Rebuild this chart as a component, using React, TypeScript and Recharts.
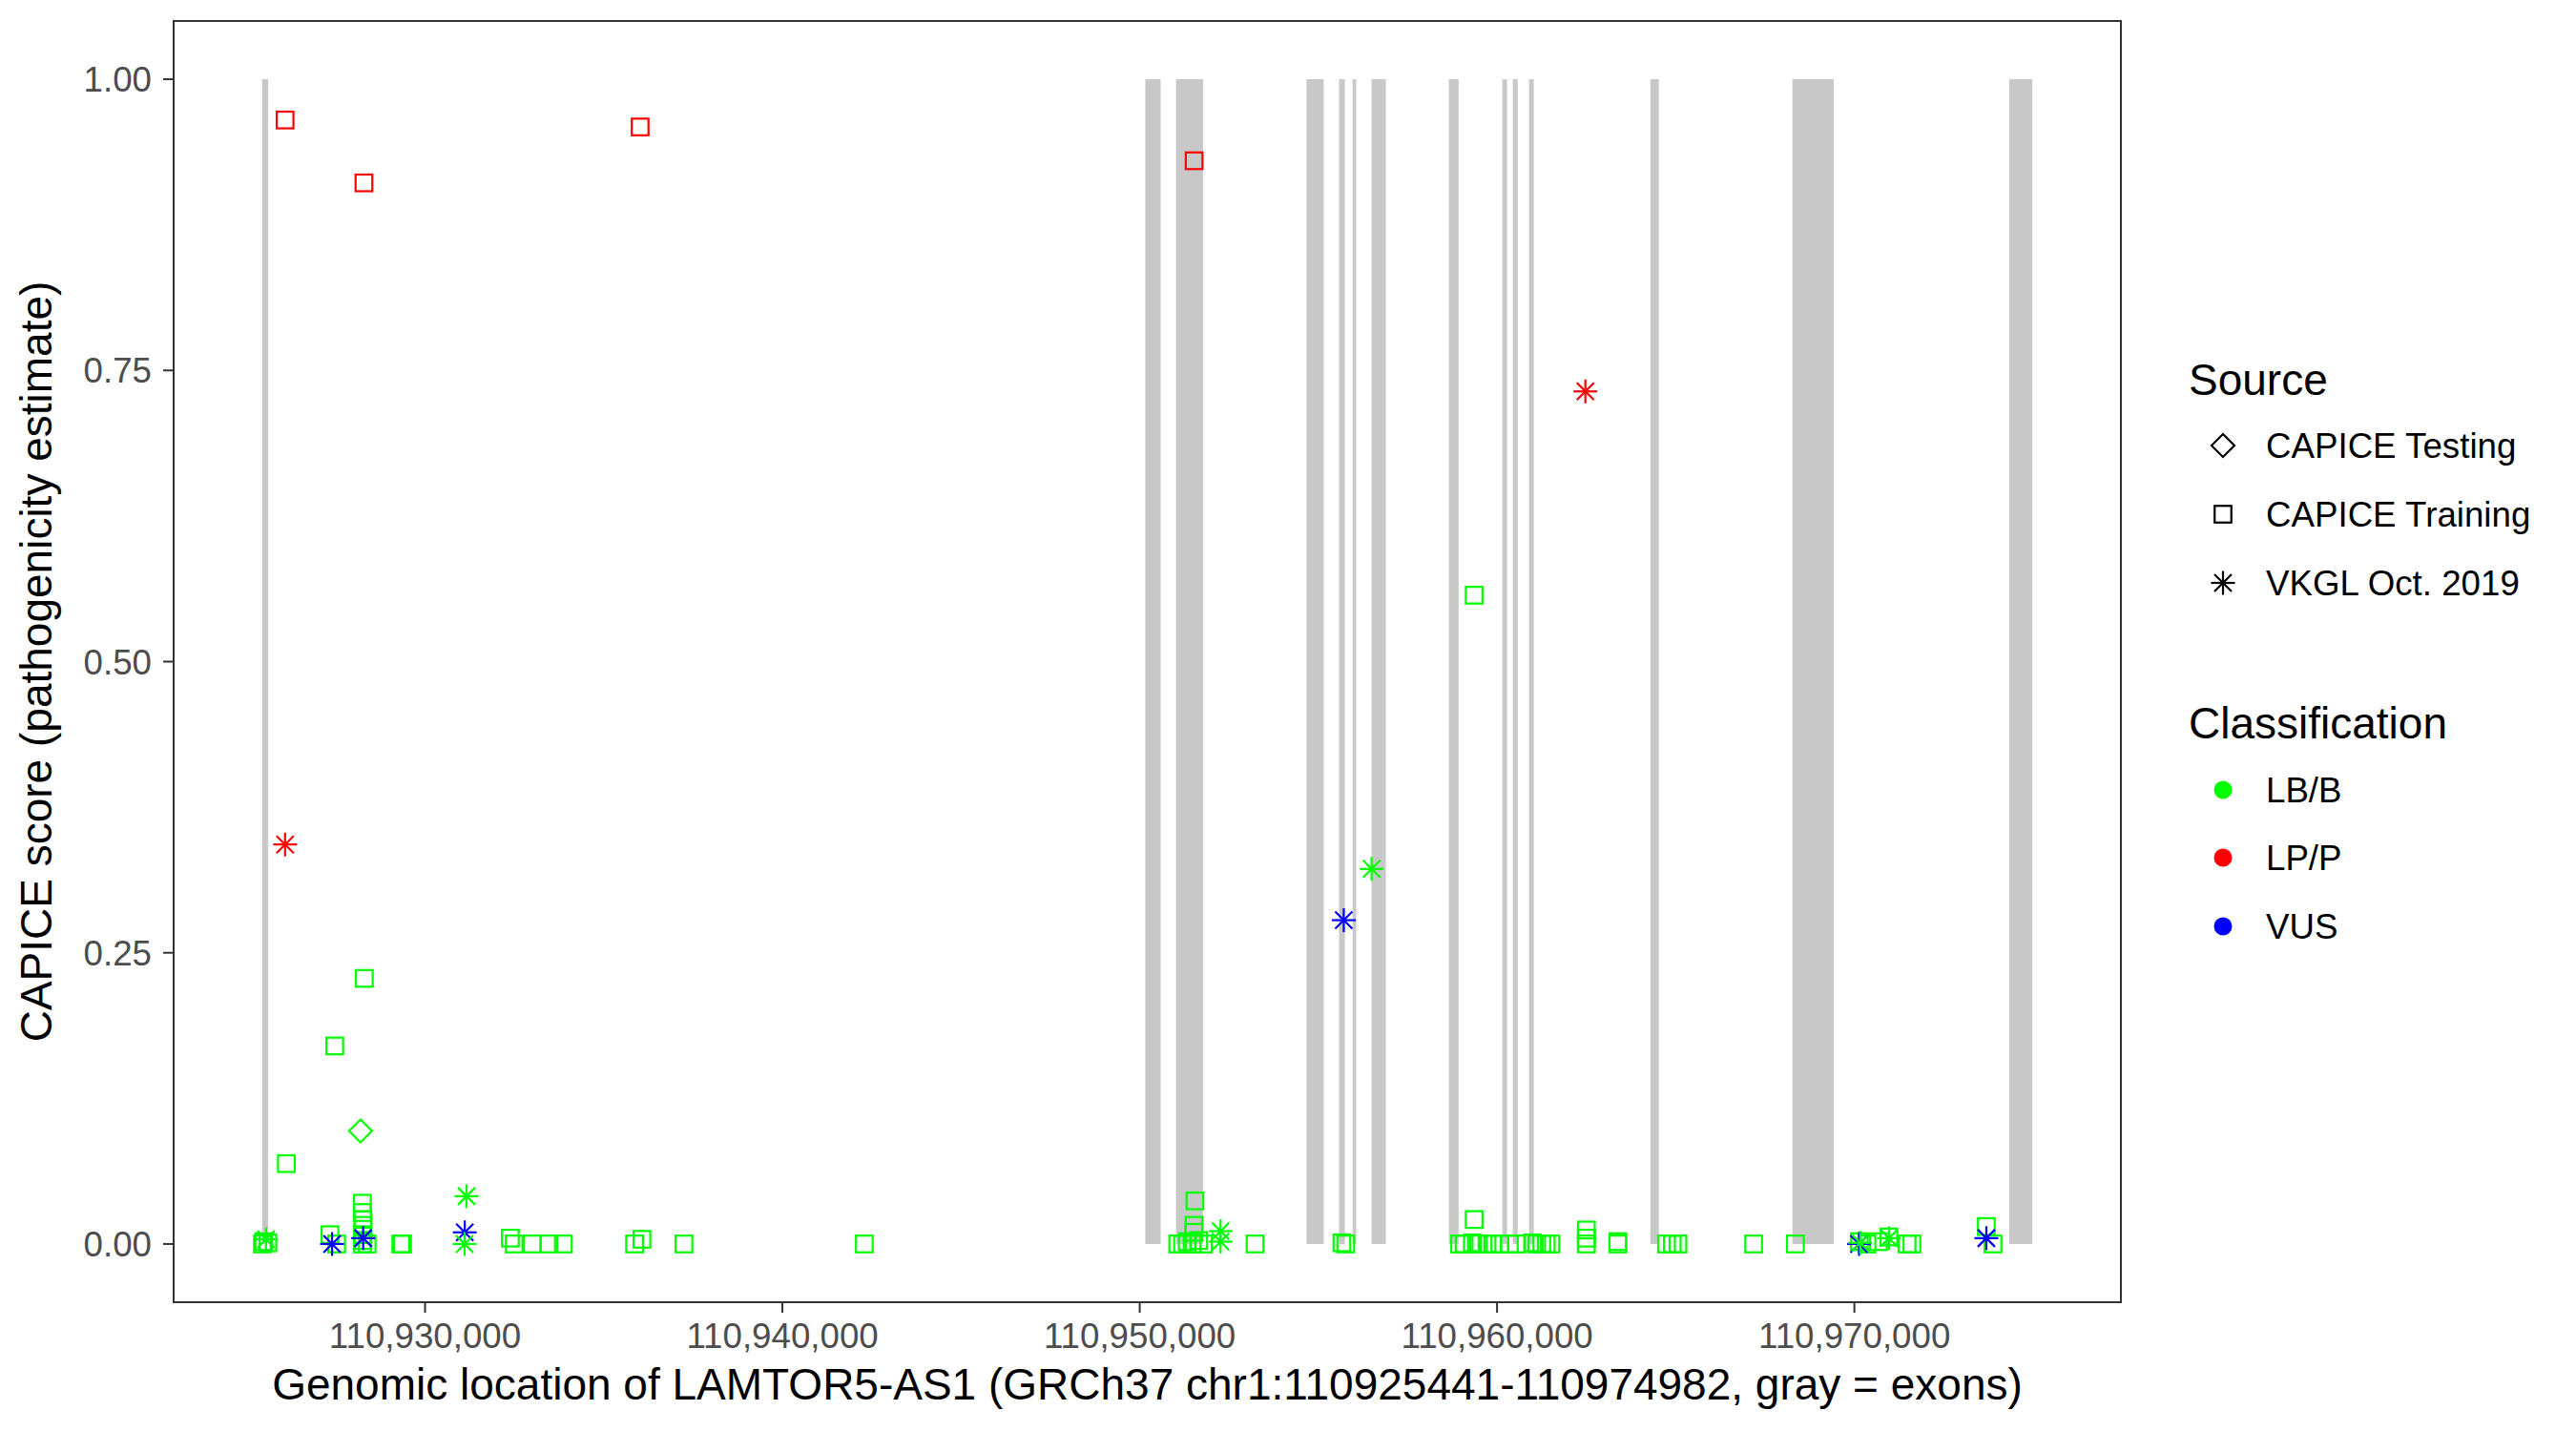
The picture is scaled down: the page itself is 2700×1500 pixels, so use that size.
import {
  ScatterChart,
  Scatter,
  XAxis,
  YAxis,
  ReferenceArea,
  Label,
} from 'recharts';

const FONT = '"Liberation Sans", Arial, sans-serif';
const GREEN = '#00FF00';
const RED = '#FF0000';
const BLUE = '#0000FF';
const TITLE_SIZE = 46;
const TEXT_SIZE = 36.7;

// gene span incl. ggplot's 5% expansion
const xDomain: [number, number] = [110922964, 110977459];
const yDomain: [number, number] = [-0.05, 1.05];
const xTicks = [110930000, 110940000, 110950000, 110960000, 110970000];
const yTicks = [0, 0.25, 0.5, 0.75, 1];

// exons (gray bars)
const exonStarts = [
  110925441, 110950155, 110951016, 110954668, 110955579, 110955956, 110956487,
  110958651, 110960148, 110960441, 110960895, 110964289, 110968269, 110974334,
];
const exonEnds = [
  110925610, 110950585, 110951772, 110955149, 110955742, 110956060, 110956888,
  110958924, 110960281, 110960580, 110961029, 110964529, 110969424, 110974982,
];

// [position, CAPICE score]
const testingBenign: [number, number][] = [[110928194, 0.097]];

const trainingBenign: [number, number][] = [
  [110925450, 0.0], [110925488, 0.002], [110925602, 0.001], [110926118, 0.069],
  [110927473, 0.17], [110928301, 0.228], [110927339, 0.008], [110927526, 0.0],
  [110928247, 0.035], [110928247, 0.027], [110928262, 0.021], [110928262, 0.016],
  [110928247, 0.008], [110928262, 0.003], [110928247, 0.0], [110928381, 0.0],
  [110929321, 0.0], [110929370, 0.0], [110932388, 0.005], [110932495, 0.0],
  [110933003, 0.0], [110933463, 0.0], [110933871, 0.0], [110935864, 0.0],
  [110936070, 0.004], [110937246, 0.0], [110942293, 0.0],
  [110951064, 0.0], [110951198, 0.0], [110951331, 0.002], [110951465, 0.0],
  [110951545, 0.037], [110951518, 0.016], [110951518, 0.01], [110951652, 0.003],
  [110951785, 0.0], [110953228, 0.0], [110955659, 0.001], [110955766, 0.0],
  [110959359, 0.557], [110959359, 0.021], [110958953, 0.0], [110959079, 0.0],
  [110959311, 0.001], [110959480, 0.0], [110959720, 0.0], [110959880, 0.0],
  [110960078, 0.0], [110960345, 0.0], [110960548, 0.0], [110960997, 0.001],
  [110961109, 0.0], [110961253, 0.0], [110961376, 0.0], [110961506, 0.0],
  [110962499, 0.012], [110962499, 0.005], [110962499, 0.0], [110963380, 0.002],
  [110963380, 0.0], [110964743, 0.0], [110964903, 0.0], [110965063, 0.0],
  [110967181, 0.0], [110968349, 0.0], [110970139, 0.002], [110970353, 0.0],
  [110970674, 0.002], [110970968, 0.006], [110971476, 0.0], [110971610, 0.0],
  [110973693, 0.015], [110973880, 0.0],
];

const vkglBenign: [number, number][] = [
  [110925549, 0.004], [110931160, 0.041], [110931106, 0.0], [110952263, 0.011],
  [110952263, 0.002], [110956490, 0.322], [110970166, 0.001], [110970968, 0.005],
];

const trainingPathogenic: [number, number][] = [
  [110926083, 0.965], [110928290, 0.911], [110936019, 0.959], [110951523, 0.93],
];

const vkglPathogenic: [number, number][] = [
  [110926083, 0.343], [110962472, 0.732],
];

const vkglVus: [number, number][] = [
  [110927398, 0.0], [110928268, 0.005], [110931111, 0.01], [110955710, 0.278],
  [110970131, 0.0], [110973693, 0.005],
];

const sourceLabels = ['CAPICE Testing', 'CAPICE Training', 'VKGL Oct. 2019'];
const classLabels = ['LB/B', 'LP/P', 'VUS'];
const classColors = [GREEN, RED, BLUE];

const toPoints = (rows: [number, number][]) => rows.map(([x, y]) => ({ x, y }));

function Square({ cx, cy, color }: any) {
  return (
    <rect x={cx - 8.75} y={cy - 8.75} width={17.5} height={17.5} fill="none" stroke={color} strokeWidth={2.2} />
  );
}

function Diamond({ cx, cy, color }: any) {
  const r = 12;
  return (
    <path
      d={`M${cx},${cy - r}L${cx + r},${cy}L${cx},${cy + r}L${cx - r},${cy}Z`}
      fill="none"
      stroke={color}
      strokeWidth={2.2}
    />
  );
}

function Asterisk({ cx, cy, color }: any) {
  const r = 12.5;
  const d = 9;
  return (
    <g stroke={color} strokeWidth={2.2}>
      <line x1={cx - r} y1={cy} x2={cx + r} y2={cy} />
      <line x1={cx} y1={cy - r} x2={cx} y2={cy + r} />
      <line x1={cx - d} y1={cy - d} x2={cx + d} y2={cy + d} />
      <line x1={cx - d} y1={cy + d} x2={cx + d} y2={cy - d} />
    </g>
  );
}

function LegendOverlay() {
  const keyX = 2330;
  const labelX = 2375;
  const sourceRows = [467, 539, 611];
  const classRows = [828, 899, 971];
  const keyShapes = [Diamond, Square, Asterisk];
  return (
    <svg
      width={2700}
      height={1500}
      style={{ position: 'absolute', left: 0, top: 0, pointerEvents: 'none' }}
    >
      <text x={2294} y={414} fontSize={TITLE_SIZE} fontFamily={FONT} fill="#000">Source</text>
      {sourceLabels.map((label, i) => {
        const Shape = keyShapes[i];
        return (
          <g key={label}>
            <Shape cx={keyX} cy={sourceRows[i]} color="#000" />
            <text x={labelX} y={sourceRows[i] + 13} fontSize={TEXT_SIZE} fontFamily={FONT} fill="#000">
              {label}
            </text>
          </g>
        );
      })}
      <text x={2294} y={774} fontSize={TITLE_SIZE} fontFamily={FONT} fill="#000">Classification</text>
      {classLabels.map((label, i) => (
        <g key={label}>
          <circle cx={keyX} cy={classRows[i]} r={9.5} fill={classColors[i]} />
          <text x={labelX} y={classRows[i] + 13} fontSize={TEXT_SIZE} fontFamily={FONT} fill="#000">
            {label}
          </text>
        </g>
      ))}
    </svg>
  );
}

export default function App() {
  const tickStyle = { fill: '#4D4D4D', fontSize: TEXT_SIZE, fontFamily: FONT };
  const tickLine = { stroke: '#333333', strokeWidth: 2 };

  return (
    <div style={{ position: 'absolute', left: 0, top: 0, width: 2700, height: 1500, background: '#fff' }}>
      <ScatterChart
        width={2700}
        height={1500}
        margin={{ top: 22, right: 477, bottom: 0, left: 0 }}
      >
        <XAxis
          type="number"
          dataKey="x"
          domain={xDomain}
          allowDataOverflow
          ticks={xTicks}
          interval={0}
          height={135}
          tick={tickStyle}
          tickLine={tickLine}
          tickSize={11}
          tickMargin={11}
          axisLine={false}
          tickFormatter={(v: number) => v.toLocaleString('en-US')}
        >
          <Label
            content={({ viewBox }: any) => (
              <text
                x={viewBox.x + viewBox.width / 2}
                y={viewBox.y + viewBox.height - 33}
                textAnchor="middle"
                fontSize={TITLE_SIZE}
                fontFamily={FONT}
                fill="#000"
              >
                Genomic location of LAMTOR5-AS1 (GRCh37 chr1:110925441-110974982, gray = exons)
              </text>
            )}
          />
        </XAxis>
        <YAxis
          type="number"
          dataKey="y"
          domain={yDomain}
          allowDataOverflow
          ticks={yTicks}
          interval={0}
          width={182}
          tick={tickStyle}
          tickLine={tickLine}
          tickSize={11}
          tickMargin={12}
          axisLine={false}
          tickFormatter={(v: number) => v.toFixed(2)}
        >
          <Label
            content={({ viewBox }: any) => {
              const cx = 54;
              const cy = viewBox.y + viewBox.height / 2;
              return (
                <text
                  x={cx}
                  y={cy}
                  transform={`rotate(-90, ${cx}, ${cy})`}
                  textAnchor="middle"
                  fontSize={TITLE_SIZE}
                  fontFamily={FONT}
                  fill="#000"
                >
                  CAPICE score (pathogenicity estimate)
                </text>
              );
            }}
          />
        </YAxis>

        {exonStarts.map((start, i) => (
          <ReferenceArea
            key={`exon-${i}`}
            x1={start}
            x2={exonEnds[i]}
            y1={0}
            y2={1}
            fill="#C8C8C8"
            fillOpacity={1}
            stroke="none"
            ifOverflow="visible"
          />
        ))}

        <Scatter
          data={toPoints(trainingBenign)}
          isAnimationActive={false}
          shape={(p: any) => <Square {...p} color={GREEN} />}
        />
        <Scatter
          data={toPoints(testingBenign)}
          isAnimationActive={false}
          shape={(p: any) => <Diamond {...p} color={GREEN} />}
        />
        <Scatter
          data={toPoints(vkglVus)}
          isAnimationActive={false}
          shape={(p: any) => <Asterisk {...p} color={BLUE} />}
        />
        <Scatter
          data={toPoints(vkglBenign)}
          isAnimationActive={false}
          shape={(p: any) => <Asterisk {...p} color={GREEN} />}
        />
        <Scatter
          data={toPoints(trainingPathogenic)}
          isAnimationActive={false}
          shape={(p: any) => <Square {...p} color={RED} />}
        />
        <Scatter
          data={toPoints(vkglPathogenic)}
          isAnimationActive={false}
          shape={(p: any) => <Asterisk {...p} color={RED} />}
        />

        {/* panel border */}
        <ReferenceArea
          x1={xDomain[0]}
          x2={xDomain[1]}
          y1={yDomain[0]}
          y2={yDomain[1]}
          fill="none"
          stroke="#333333"
          strokeWidth={2}
          ifOverflow="visible"
        />
      </ScatterChart>
      <LegendOverlay />
    </div>
  );
}
